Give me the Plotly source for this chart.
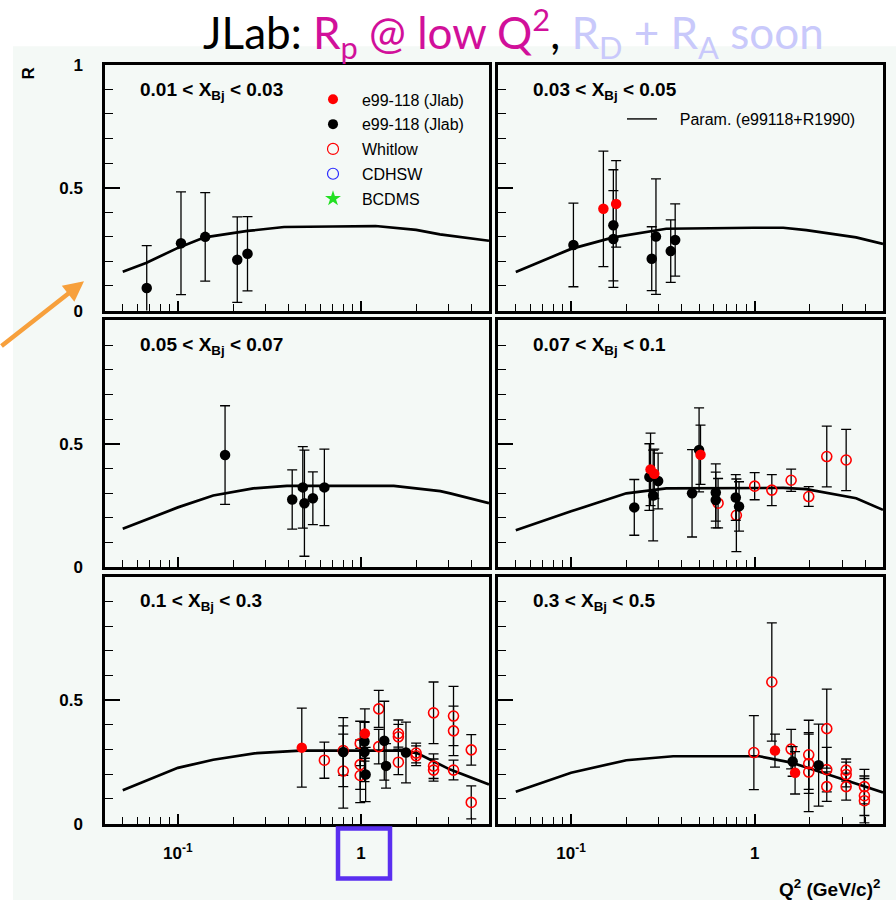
import math
import plotly.graph_objects as go

W, H = 896, 910

# ---------------- data: R = sigma_L / sigma_T versus Q^2 in six x_Bj bins ----------------
bin_labels = [
    "0.01 &lt; X<sub>Bj</sub> &lt; 0.03",
    "0.03 &lt; X<sub>Bj</sub> &lt; 0.05",
    "0.05 &lt; X<sub>Bj</sub> &lt; 0.07",
    "0.07 &lt; X<sub>Bj</sub> &lt; 0.1",
    "0.1 &lt; X<sub>Bj</sub> &lt; 0.3",
    "0.3 &lt; X<sub>Bj</sub> &lt; 0.5",
]

# parametrization (e99118 + R1990), one curve per bin
p1_curve_q2 = [0.05, 0.067, 0.1, 0.14, 0.24, 0.38, 0.7, 1.2, 2.0, 2.7, 5.0]
p1_curve_r = [0.158, 0.194, 0.255, 0.298, 0.324, 0.340, 0.342, 0.344, 0.328, 0.310, 0.284]
p2_curve_q2 = [0.05, 0.1, 0.17, 0.33, 0.99, 1.43, 1.91, 3.57, 5.0]
p2_curve_r = [0.157, 0.251, 0.298, 0.333, 0.337, 0.337, 0.327, 0.298, 0.271]
p3_curve_q2 = [0.05, 0.1, 0.156, 0.258, 0.394, 1.51, 2.71, 3.07, 5.0]
p3_curve_r = [0.155, 0.242, 0.290, 0.319, 0.329, 0.329, 0.308, 0.299, 0.259]
p4_curve_q2 = [0.05, 0.1, 0.2, 0.33, 1.43, 1.91, 3.57, 5.0]
p4_curve_r = [0.149, 0.226, 0.299, 0.319, 0.321, 0.316, 0.279, 0.232]
p5_curve_q2 = [0.05, 0.1, 0.156, 0.27, 0.466, 1.64, 2.02, 2.71, 3.07, 5.0]
p5_curve_r = [0.135, 0.226, 0.259, 0.286, 0.296, 0.296, 0.286, 0.239, 0.219, 0.159]
p6_curve_q2 = [0.05, 0.1, 0.2, 0.36, 1.06, 1.61, 2.66, 5.0]
p6_curve_r = [0.129, 0.206, 0.257, 0.273, 0.273, 0.246, 0.193, 0.126]

# e99-118 (Jlab), red points
p2_red_q2 = [0.150, 0.176]
p2_red_r = [0.414, 0.434]
p2_red_err = [0.235, 0.176]
p4_red_q2 = [0.271, 0.284, 0.507]
p4_red_r = [0.396, 0.378, 0.455]
p4_red_err = [0.147, 0.10, 0.12]
p5_red_q2 = [0.475, 1.05]
p5_red_r = [0.308, 0.365]
p5_red_err = [0.16, 0.10]
p6_red_q2 = [1.29, 1.66]
p6_red_r = [0.296, 0.206]
p6_red_err = [0.067, 0.086]

# e99-118 (Jlab), black points
p1_blk_q2 = [0.0676, 0.104, 0.141, 0.211, 0.240]
p1_blk_r = [0.092, 0.274, 0.300, 0.207, 0.231]
p1_blk_err = [0.172, 0.209, 0.180, 0.174, 0.151]
p2_blk_q2 = [0.103, 0.170, 0.170, 0.275, 0.290, 0.349, 0.369]
p2_blk_r = [0.267, 0.347, 0.291, 0.211, 0.301, 0.242, 0.287]
p2_blk_err = [0.170, 0.226, 0.197, 0.130, 0.235, 0.127, 0.147]
p3_blk_q2 = [0.181, 0.421, 0.481, 0.491, 0.546, 0.631]
p3_blk_r = [0.454, 0.274, 0.323, 0.259, 0.279, 0.323]
p3_blk_err = [0.200, 0.120, 0.165, 0.215, 0.107, 0.155]
p4_blk_q2 = [0.221, 0.267, 0.280, 0.298, 0.456, 0.498, 0.614, 0.614, 0.789, 0.822]
p4_blk_r = [0.242, 0.365, 0.290, 0.349, 0.299, 0.475, 0.302, 0.272, 0.282, 0.246]
p4_blk_err = [0.113, 0.135, 0.184, 0.113, 0.177, 0.170, 0.116, 0.113, 0.093, 0.100]
p5_blk_q2 = [0.80, 1.045, 1.045, 1.06, 1.34, 1.37, 1.76]
p5_blk_r = [0.290, 0.333, 0.290, 0.199, 0.336, 0.234, 0.288]
p5_blk_err = [0.140, 0.080, 0.120, 0.110, 0.160, 0.090, 0.123]
p6_blk_q2 = [1.61, 2.23]
p6_blk_r = [0.252, 0.237]
p6_blk_err = [0.060, 0.166]

# Whitlow
p4_wht_q2 = [0.632, 0.795, 1.0, 1.24, 1.58, 1.97, 2.47, 3.15]
p4_wht_r = [0.259, 0.210, 0.328, 0.312, 0.352, 0.286, 0.448, 0.434]
p4_wht_err = [0.100, 0.147, 0.055, 0.063, 0.045, 0.040, 0.123, 0.124]
p5_wht_q2 = [0.631, 0.80, 0.80, 0.99, 0.99, 0.99, 1.25, 1.25, 1.60, 1.60, 1.60,
             2.0, 2.0, 2.49, 2.49, 2.49, 3.2, 3.2, 3.2, 4.0, 4.0]
p5_wht_r = [0.257, 0.213, 0.296, 0.325, 0.239, 0.195, 0.465, 0.312, 0.365, 0.352, 0.249,
            0.286, 0.275, 0.449, 0.233, 0.217, 0.436, 0.376, 0.217, 0.299, 0.086]
p5_wht_err = [0.073, 0.150, 0.100, 0.090, 0.100, 0.110, 0.075, 0.070, 0.055, 0.050, 0.050,
              0.040, 0.040, 0.125, 0.050, 0.045, 0.120, 0.100, 0.040, 0.062, 0.067]
p6_wht_q2 = [0.99, 1.24, 1.58, 1.97, 1.97, 1.97, 2.47, 2.47, 2.47, 3.15, 3.15, 3.15, 3.96, 3.96, 3.96]
p6_wht_r = [0.288, 0.574, 0.302, 0.279, 0.243, 0.209, 0.385, 0.219, 0.150, 0.217, 0.199, 0.150,
            0.150, 0.113, 0.093]
p6_wht_err = [0.150, 0.240, 0.080, 0.140, 0.120, 0.160, 0.160, 0.090, 0.060, 0.045, 0.050, 0.055,
              0.070, 0.080, 0.090]

x_major_ticks = [0.1, 1]
x_major_text = ["10<sup>-1</sup>", "1"]
x_minor_ticks = [0.05, 0.06, 0.07, 0.08, 0.09, 0.2, 0.3, 0.4, 0.5, 0.6, 0.7, 0.8, 0.9, 2, 3, 4, 5]
q2_range = [0.04, 5.0]

legend_names = ["e99-118 (Jlab)", "e99-118 (Jlab)", "Whitlow", "CDHSW", "BCDMS"]
param_name = "Param. (e99118+R1990)"

# ---------------- styling ----------------
FONT = "Liberation Sans"
RED = "#ff0000"
BG = "#f4f9f6"

curves = [(p1_curve_q2, p1_curve_r), (p2_curve_q2, p2_curve_r), (p3_curve_q2, p3_curve_r),
          (p4_curve_q2, p4_curve_r), (p5_curve_q2, p5_curve_r), (p6_curve_q2, p6_curve_r)]
reds = {2: (p2_red_q2, p2_red_r, p2_red_err), 4: (p4_red_q2, p4_red_r, p4_red_err),
        5: (p5_red_q2, p5_red_r, p5_red_err), 6: (p6_red_q2, p6_red_r, p6_red_err)}
blacks = {1: (p1_blk_q2, p1_blk_r, p1_blk_err), 2: (p2_blk_q2, p2_blk_r, p2_blk_err),
          3: (p3_blk_q2, p3_blk_r, p3_blk_err), 4: (p4_blk_q2, p4_blk_r, p4_blk_err),
          5: (p5_blk_q2, p5_blk_r, p5_blk_err), 6: (p6_blk_q2, p6_blk_r, p6_blk_err)}
whitlows = {4: (p4_wht_q2, p4_wht_r, p4_wht_err), 5: (p5_wht_q2, p5_wht_r, p5_wht_err),
            6: (p6_wht_q2, p6_wht_r, p6_wht_err)}

# panel frames in pixels (left, right) and (top, bottom)
cols_px = [(105, 489), (498, 883)]
rows_px = [(57, 308), (318, 570), (580, 832)]


def err_bar(arr):
    return dict(type="data", array=arr, visible=True, color="black", thickness=1.3, width=5)


fig = go.Figure()
layout = dict(width=W, height=H, margin=dict(l=0, r=0, t=0, b=0), autosize=False,
              paper_bgcolor="white", plot_bgcolor=BG, showlegend=True)
annotations = []

for i in range(1, 7):
    row, col = (i - 1) // 2, (i - 1) % 2
    xs = "" if i == 1 else str(i)
    xd = [cols_px[col][0] / W, cols_px[col][1] / W]
    yd = [1 - rows_px[row][1] / H, 1 - rows_px[row][0] / H]

    layout["xaxis" + xs] = dict(
        type="log", range=[math.log10(q2_range[0]), math.log10(q2_range[1])], domain=xd,
        anchor="y" + xs, showline=True, linecolor="black", linewidth=2.5, mirror=True,
        ticks="inside", tickvals=x_major_ticks, ticktext=x_major_text, ticklen=10,
        tickwidth=1.5, tickcolor="black",
        minor=dict(ticks="inside", tickvals=x_minor_ticks, ticklen=7, tickwidth=1.2,
                   tickcolor="black", showgrid=False),
        showgrid=False, zeroline=False, showticklabels=(row == 2),
        tickfont=dict(family=FONT, size=17, color="black", weight="bold"),
        ticklabelstandoff=12,
    )
    ytv = [0, 0.5, 1] if row == 0 else [0, 0.5]
    layout["yaxis" + xs] = dict(
        range=[0, 1], domain=yd, anchor="x" + xs, showline=True, linecolor="black",
        linewidth=2.5, mirror=True, ticks="inside", tickvals=ytv,
        ticktext=["0", "0.5", "1"][:len(ytv)], ticklen=15, tickwidth=1.5, tickcolor="black",
        minor=dict(ticks="inside", dtick=0.1, ticklen=8, tickwidth=1.2, tickcolor="black",
                   showgrid=False),
        showgrid=False, zeroline=False, showticklabels=(col == 0),
        tickfont=dict(family=FONT, size=17, color="black", weight="bold"),
        ticklabelstandoff=16,
    )

    cq, cr = curves[i - 1]
    fig.add_trace(go.Scatter(x=cq, y=cr, mode="lines", line=dict(color="black", width=2.7),
                             xaxis="x" + xs, yaxis="y" + xs, showlegend=False, hoverinfo="skip"))
    if i in whitlows:
        q, r, e = whitlows[i]
        fig.add_trace(go.Scatter(x=q, y=r, mode="markers", error_y=err_bar(e),
                                 marker=dict(symbol="circle-open", size=10, color=RED,
                                             line=dict(width=1.6, color=RED)),
                                 xaxis="x" + xs, yaxis="y" + xs, showlegend=False))
    if i in blacks:
        q, r, e = blacks[i]
        fig.add_trace(go.Scatter(x=q, y=r, mode="markers", error_y=err_bar(e),
                                 marker=dict(symbol="circle", size=10.5, color="black"),
                                 xaxis="x" + xs, yaxis="y" + xs, showlegend=False))
    if i in reds:
        q, r, e = reds[i]
        fig.add_trace(go.Scatter(x=q, y=r, mode="markers", error_y=err_bar(e),
                                 marker=dict(symbol="circle", size=10.5, color=RED),
                                 xaxis="x" + xs, yaxis="y" + xs, showlegend=False))

    annotations.append(dict(
        text=bin_labels[i - 1], xref=f"x{xs} domain", yref=f"y{xs} domain",
        x=33 / 384, y=(rows_px[row][1] - (rows_px[row][0] + 27)) / 251,
        xanchor="left", yanchor="middle", showarrow=False,
        font=dict(family=FONT, size=19, color="black", weight="bold")))

# legend entries (key only)
legend_styles = [
    dict(symbol="circle", size=10, color=RED),
    dict(symbol="circle", size=10, color="black"),
    dict(symbol="circle-open", size=11, color=RED, line=dict(width=1.2, color=RED)),
    dict(symbol="circle-open", size=11, color="#2a2aff", line=dict(width=1.2, color="#2a2aff")),
    dict(symbol="star", size=12, color="#22e022", line=dict(width=0)),
]
for k, (name, mk) in enumerate(zip(legend_names, legend_styles)):
    fig.add_trace(go.Scatter(x=[None], y=[None], mode="markers", marker=mk,
                             name="\u00a0\u00a0" + name, legend="legend", legendgroup=f"g{k}",
                             xaxis="x", yaxis="y"))
fig.add_trace(go.Scatter(x=[None], y=[None], mode="lines", line=dict(color="black", width=1.4),
                         name="\u00a0\u00a0\u00a0\u00a0" + param_name, legend="legend2",
                         xaxis="x2", yaxis="y2"))

layout["legend"] = dict(x=313 / W, y=1 - 75 / H, xanchor="left", yanchor="top",
                        bgcolor="rgba(0,0,0,0)", borderwidth=0, tracegroupgap=1,
                        font=dict(family=FONT, size=16, color="black"), itemsizing="trace")
layout["legend2"] = dict(x=622 / W, y=1 - 95 / H, xanchor="left", yanchor="top",
                         bgcolor="rgba(0,0,0,0)", borderwidth=0,
                         font=dict(family=FONT, size=16, color="black"))

# slide title
annotations.append(dict(
    text=("JLab: <span style='color:#d1109a'>R<sub>p</sub> @ low Q<sup>2</sup></span>, "
          "<span style='color:#c9c9fb'>R<sub>D</sub> + R<sub>A</sub> soon</span>"),
    xref="paper", yref="paper", x=513 / W, y=1 - 25 / H, xanchor="center", yanchor="middle",
    showarrow=False, font=dict(family="Lato", size=44, color="black")))
# axis titles
annotations.append(dict(text="R", xref="paper", yref="paper", x=29 / W, y=1 - 66 / H,
                        textangle=-90, showarrow=False, xanchor="center", yanchor="middle",
                        font=dict(family=FONT, size=17, color="black", weight="bold")))
annotations.append(dict(text="Q<sup>2</sup> (GeV/c)<sup>2</sup>", xref="paper", yref="paper",
                        x=882 / W, y=1 - 898 / H, xanchor="right", yanchor="middle",
                        showarrow=False,
                        font=dict(family=FONT, size=19, color="black", weight="bold")))
# orange pointer
annotations.append(dict(text="", xref="paper", yref="paper", x=84 / W, y=1 - 278 / H,
                        ax=-92, ay=66, axref="pixel", ayref="pixel", showarrow=True,
                        arrowhead=2, arrowsize=0.9, arrowwidth=4.5, arrowcolor="#f7a03c",
                        standoff=0))
layout["annotations"] = annotations

layout["shapes"] = [
    dict(type="rect", xref="paper", yref="paper", x0=13 / W, x1=1, y0=0, y1=1 - 38 / H,
         fillcolor=BG, line=dict(width=0), layer="below"),
    dict(type="rect", xref="paper", yref="paper", x0=338 / W, x1=390 / W,
         y0=1 - 888 / H, y1=1 - 837 / H, line=dict(color="#5a2ff0", width=4.5),
         fillcolor="rgba(0,0,0,0)", layer="above"),
]

fig.update_layout(**layout)
fig.write_html("out.html")
